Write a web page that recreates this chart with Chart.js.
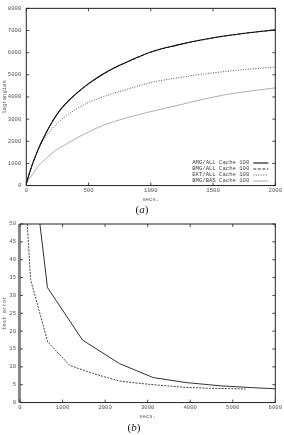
<!DOCTYPE html>
<html>
<head>
<meta charset="utf-8">
<script src="https://cdn.jsdelivr.net/npm/chart.js@4.4.1/dist/chart.umd.min.js"></script>
<style>
  body { margin: 0; width: 284px; height: 435px; background: #fff; position: relative; overflow: hidden; }
  .box { position: absolute; left: 0; width: 284px; }
  .cap { position: absolute; width: 40px; text-align: center; font-family: 'Liberation Serif', serif; font-size: 11px; line-height: 12px; color: #111; }
</style>
</head>
<body>
<div class="box" style="top:0;height:206px"><canvas id="grafA"></canvas></div>
<div class="cap" style="left:122px;top:203px">(<i>a</i>)</div>
<div class="box" style="top:215px;height:208px"><canvas id="grafB"></canvas></div>
<div class="cap" style="left:114px;top:421px">(<i>b</i>)</div>
<script>
// (a) lagrangian vs secs
const secsA  = [0, 10, 25, 50, 100, 150, 200, 250, 300, 400, 500, 600, 700, 800, 1000, 1200, 1400, 1600, 1800, 2000];
const amgAll = [80, 280, 560, 980, 1700, 2280, 2800, 3250, 3600, 4150, 4600, 4980, 5300, 5560, 6030, 6330, 6570, 6760, 6910, 7030];
const bmgAll = [80, 275, 555, 970, 1690, 2270, 2790, 3235, 3585, 4135, 4585, 4965, 5290, 5550, 6020, 6320, 6560, 6750, 6900, 7020];
const ektAll = [80, 280, 560, 980, 1650, 2150, 2520, 2820, 3060, 3450, 3750, 3970, 4170, 4330, 4650, 4850, 5020, 5150, 5260, 5350];
const bmgBas = [80, 200, 320, 500, 920, 1180, 1430, 1640, 1800, 2130, 2420, 2680, 2880, 3050, 3340, 3600, 3870, 4100, 4270, 4410];

// (b) test error vs secs
const secsEkt = [468, 645, 1470, 2340, 3130, 3900, 4700, 5500, 6000];
const errEkt  = [50, 32.2, 17.5, 10.9, 7.0, 5.6, 4.7, 4.15, 3.85];
const secsAmg = [172, 248, 650, 1170, 1700, 2340, 3040, 3825, 4450, 5300];
const errAmg  = [50, 34.5, 17.0, 10.4, 8.2, 6.0, 5.1, 4.3, 4.0, 3.8];

const mono = 'Liberation Mono';

function pts(xs, ys) {
    return xs.map((x, i) => ({ x: x, y: ys[i] }));
}

// gnuplot-like frame, inner ticks and key
const framePlugin = {
    id: 'frame',
    afterDatasetsDraw(chart, args, opts) {
        const { ctx, chartArea: a, scales } = chart;
        const sx = scales.x, sy = scales.y;
        ctx.save();
        ctx.strokeStyle = '#222';
        ctx.lineWidth = 1;
        ctx.strokeRect(a.left, a.top, a.right - a.left, a.bottom - a.top);
        if (opts.thickLeft) {
            ctx.strokeStyle = '#888';
            ctx.lineWidth = 2.5;
            ctx.beginPath();
            ctx.moveTo(a.left - 0.8, a.top);
            ctx.lineTo(a.left - 0.8, a.bottom);
            ctx.stroke();
        }
        ctx.strokeStyle = '#222';
        ctx.lineWidth = 0.8;
        ctx.beginPath();
        sx.ticks.forEach(t => {
            const p = sx.getPixelForValue(t.value);
            ctx.moveTo(p, a.bottom); ctx.lineTo(p, a.bottom - 3);
            ctx.moveTo(p, a.top); ctx.lineTo(p, a.top + 3);
        });
        sy.ticks.forEach(t => {
            const p = sy.getPixelForValue(t.value);
            ctx.moveTo(a.left, p); ctx.lineTo(a.left + 3, p);
            ctx.moveTo(a.right, p); ctx.lineTo(a.right - 3, p);
        });
        ctx.stroke();

        // key
        ctx.font = '5.6px "' + mono + '"';
        ctx.fillStyle = '#444';
        ctx.textAlign = 'right';
        ctx.textBaseline = 'middle';
        chart.data.datasets.forEach((ds, i) => {
            const yy = opts.keyY + i * 6;
            ctx.fillText(ds.label, a.right - 26, yy);
            ctx.strokeStyle = ds.borderColor;
            ctx.lineWidth = ds.borderWidth;
            ctx.setLineDash(ds.borderDash || []);
            ctx.beginPath();
            ctx.moveTo(a.right - 22, yy);
            ctx.lineTo(a.right - 7, yy);
            ctx.stroke();
            ctx.setLineDash([]);
        });
        ctx.restore();
    }
};

function eixos(xMin, xMax, xStep, yMin, yMax, yStep, yTitulo, yWidth) {
    return {
        x: {
            type: 'linear', min: xMin, max: xMax,
            grid: { display: false, drawTicks: false },
            border: { display: false },
            ticks: { stepSize: xStep, padding: 2, color: '#555', maxRotation: 0, font: { family: mono, size: 5.6 },
                     callback: v => String(v) },
            title: { display: true, text: 'secs.', color: '#555', padding: { top: 0, bottom: 3 }, font: { family: mono, size: 5.6 } }
        },
        y: {
            type: 'linear', min: yMin, max: yMax,
            grid: { display: false, drawTicks: false },
            border: { display: false },
            ticks: { stepSize: yStep, padding: yWidth > 22 ? 5 : 4, color: '#555', font: { family: mono, size: 5.6 },
                     callback: v => String(v) },
            title: { display: true, text: yTitulo, color: '#555', padding: { top: 1, bottom: 0 }, font: { family: mono, size: 5.6 } },
            afterFit: function (scale) { scale.width = yWidth; }
        }
    };
}

new Chart(document.getElementById('grafA').getContext('2d'), {
    type: 'line',
    data: {
        datasets: [
            { label: 'AMG/ALL Cache 100', data: pts(secsA, amgAll), borderColor: '#111', borderWidth: 1.1 },
            { label: 'BMG/ALL Cache 100', data: pts(secsA, bmgAll), borderColor: '#333', borderWidth: 1, borderDash: [3, 1.5] },
            { label: 'EKT/ALL Cache 100', data: pts(secsA, ektAll), borderColor: '#555', borderWidth: 1, borderDash: [1, 1.5] },
            { label: 'BMG/BAS Cache 100', data: pts(secsA, bmgBas), borderColor: '#9a9a9a', borderWidth: 0.8 }
        ]
    },
    options: {
        responsive: true,
        maintainAspectRatio: false,
        animation: false,
        elements: { point: { radius: 0 }, line: { cubicInterpolationMode: 'monotone' } },
        layout: { padding: { left: 0, right: 7.7, top: 7.3, bottom: 0 } },
        scales: eixos(0, 2000, 500, 0, 8000, 1000, 'lagrangian', 26.3),
        plugins: {
            legend: { display: false },
            tooltip: { enabled: false },
            frame: { keyY: 163 }
        }
    },
    plugins: [framePlugin]
});

new Chart(document.getElementById('grafB').getContext('2d'), {
    type: 'line',
    data: {
        datasets: [
            { label: 'EKT/ALL Cache 100', data: pts(secsEkt, errEkt), borderColor: '#333', borderWidth: 1 },
            { label: 'AMG/ALL Cache 100', data: pts(secsAmg, errAmg), borderColor: '#444', borderWidth: 1, borderDash: [2, 1.2] }
        ]
    },
    options: {
        responsive: true,
        maintainAspectRatio: false,
        animation: false,
        elements: { point: { radius: 0 }, line: { tension: 0 } },
        layout: { padding: { left: 0, right: 7.7, top: 9, bottom: 0 } },
        scales: eixos(0, 6000, 1000, 0, 50, 5, 'test error', 20),
        plugins: {
            legend: { display: false },
            tooltip: { enabled: false },
            frame: { keyY: 230, thickLeft: true }
        }
    },
    plugins: [framePlugin]
});
</script>
</body>
</html>
